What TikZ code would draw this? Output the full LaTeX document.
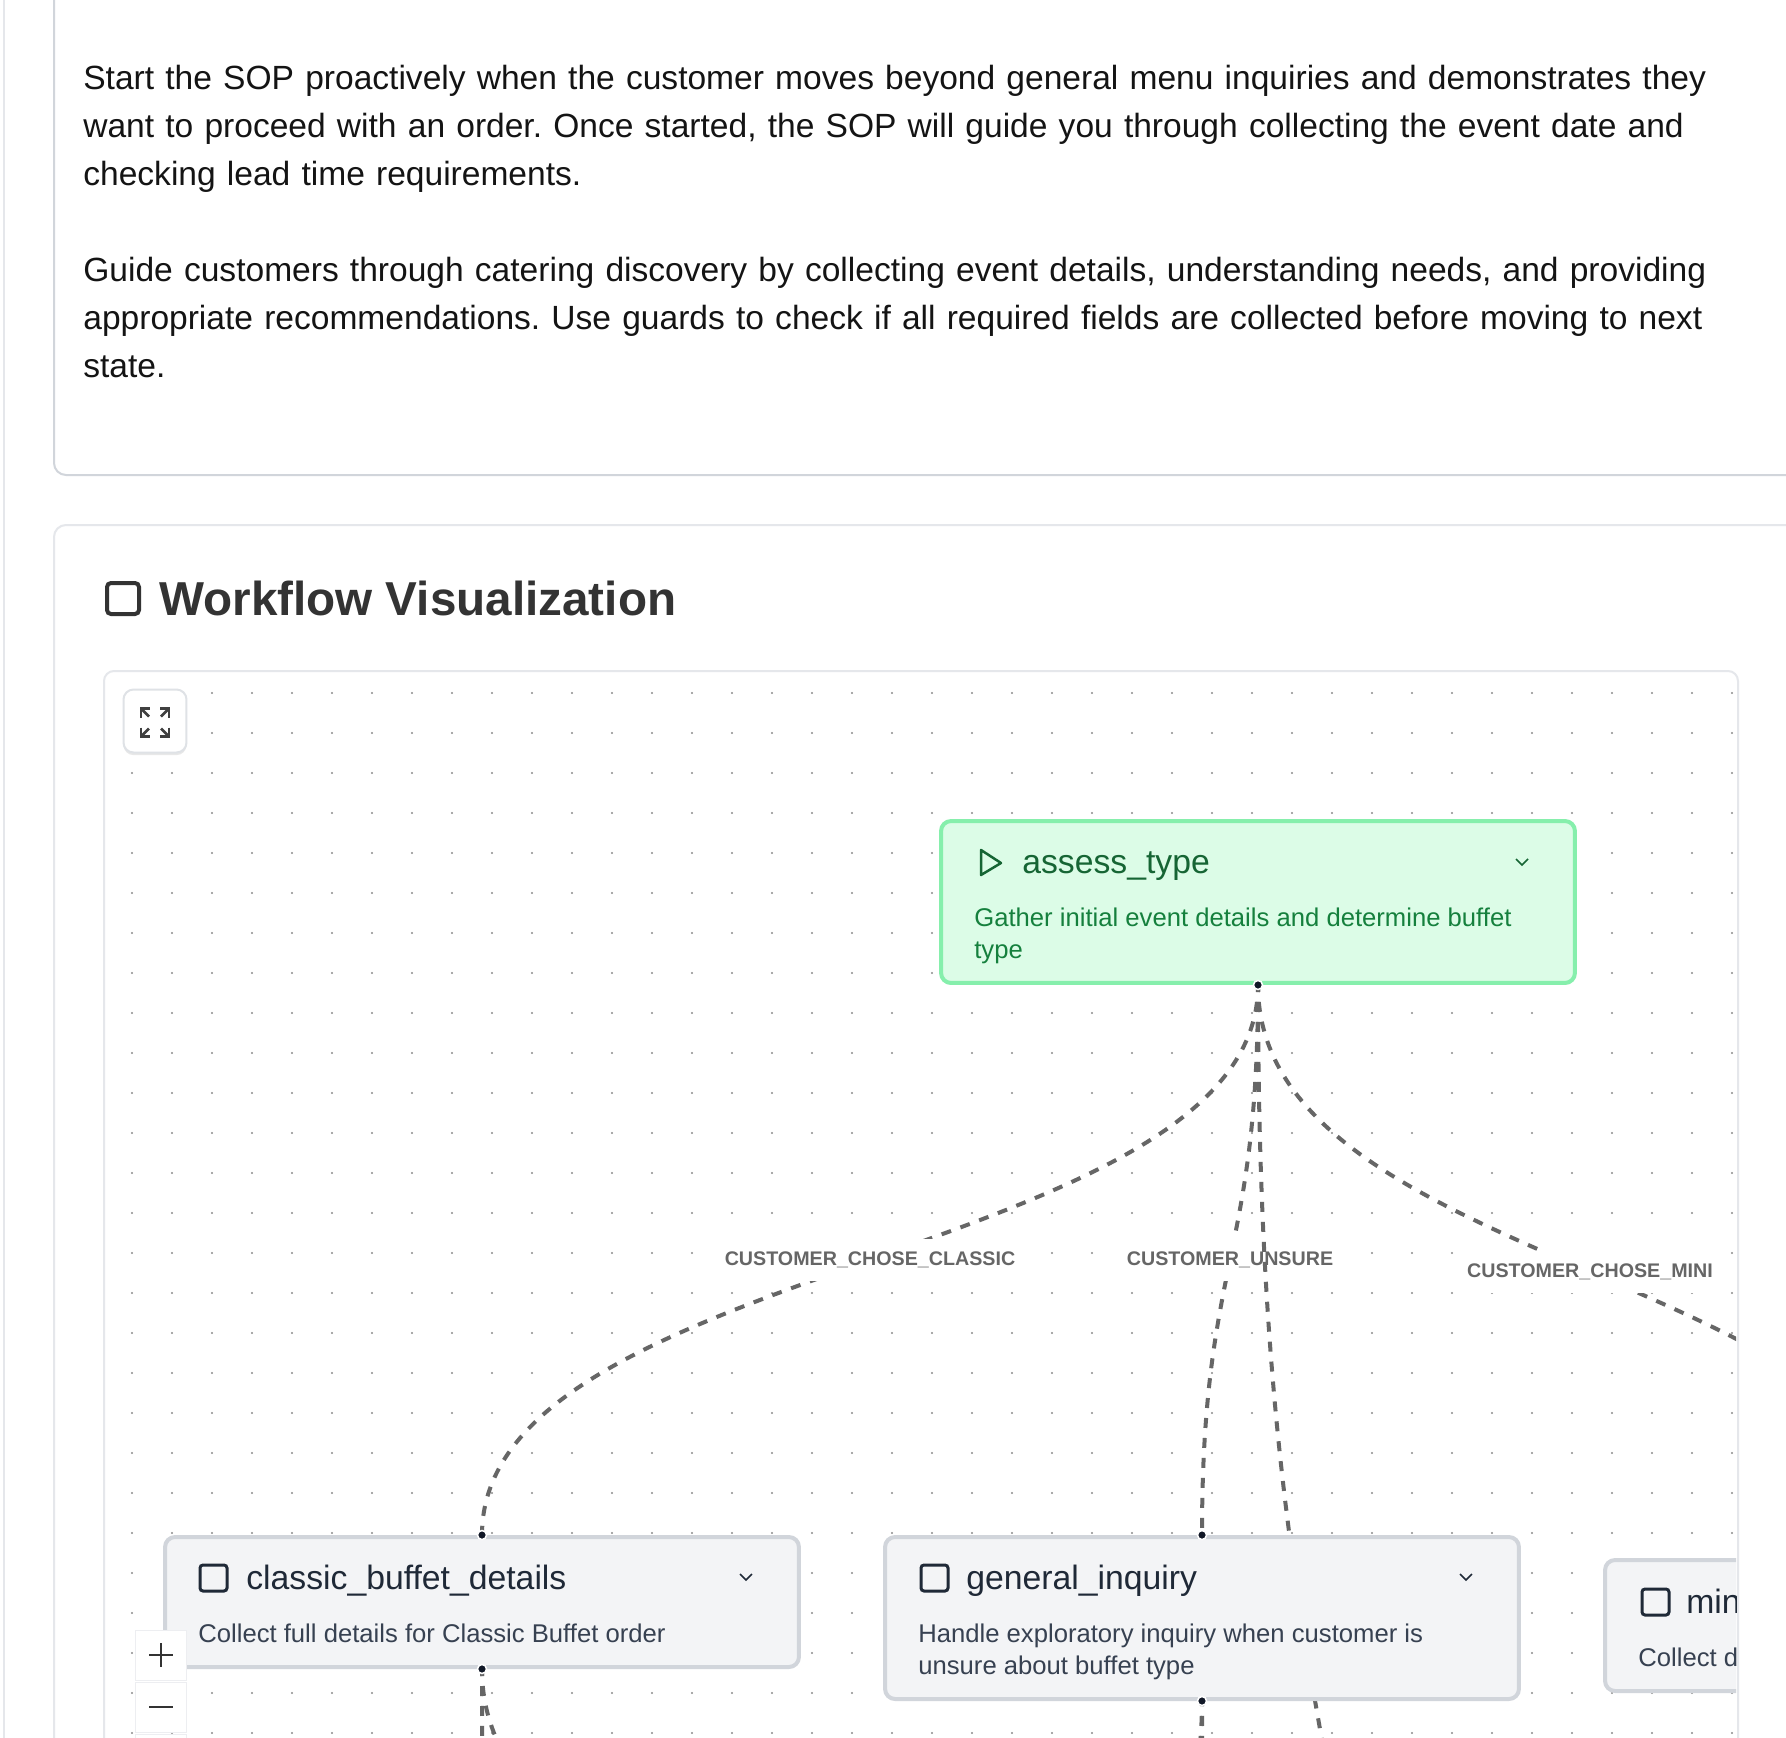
\documentclass[tikz,border=0pt]{standalone}
\usepackage{fontspec}
\setmainfont{Liberation Sans}
\usetikzlibrary{positioning,shadows}
\definecolor{startFill}{HTML}{DCFCE7}
\definecolor{startLine}{HTML}{86EFAC}
\definecolor{startTitle}{HTML}{166534}
\definecolor{startText}{HTML}{15803D}
\definecolor{stateFill}{HTML}{F3F4F6}
\definecolor{stateLine}{HTML}{D1D5DB}
\definecolor{stateTitle}{HTML}{1F2937}
\definecolor{stateText}{HTML}{374151}
\definecolor{cardLine}{HTML}{E5E7EB}
\definecolor{edgeGray}{HTML}{666666}
\definecolor{handleDark}{HTML}{111827}
\pgfdeclarelayer{back}
\pgfdeclarelayer{edges}
\pgfsetlayers{back,edges,main}
\tikzset {
    style Start/.style={
        fill=startFill,
        draw=startLine,
        line width=.08cm,
        rectangle, % Set the shape as a rectangle
        rounded corners=.2cm,
        minimum width=12.68cm,
        drop shadow={shadow xshift=0pt, shadow yshift=-1pt, opacity=.12},
    },
    style State/.style={
        fill=stateFill,
        draw=stateLine,
        line width=.08cm,
        rectangle, % Set the shape as a rectangle
        rounded corners=.2cm,
        minimum width=12.68cm,
        drop shadow={shadow xshift=0pt, shadow yshift=-1pt, opacity=.12},
    },
    style Button/.style={
        fill=white,
        draw=stateLine!70,
        line width=.04cm,
        rectangle,
        rounded corners=.2cm,
        minimum size=1.26cm,
        drop shadow={shadow xshift=0pt, shadow yshift=-1.5pt, opacity=.18},
    },
    style Zoom/.style={
        fill=white,
        draw=cardLine!70,
        line width=.02cm,
        rectangle,
        minimum width=1.04cm,
        minimum height=1cm,
    },
    style Edge/.style={
        draw=edgeGray,
        line width=.08cm,
        dash pattern=on .2cm off .2cm,
        dash phase=.06cm,
    },
    style Label/.style={
        fill=white,
        text=edgeGray,
        font=\fontsize{11.2pt}{14pt}\selectfont\bfseries,
        minimum height=.84cm,
        inner xsep=.1cm,
        inner ysep=0pt,
        solid,
    },
    style Handle/.style={
        circle,
        fill=handleDark,
        draw=white,
        line width=.03cm,
        inner sep=0pt,
        minimum size=.18cm,
    },
    style Title/.style={
        anchor=base west,
        inner sep=0pt,
        font=\fontsize{19.2pt}{23pt}\selectfont,
    },
    style Desc/.style={
        anchor=north west,
        inner sep=0pt,
        align=left,
        font=\fontsize{14.6pt}{18.2pt}\selectfont,
    },
    style Para/.style={
        anchor=north west,
        inner sep=0pt,
        align=left,
        text=black!92,
        font=\fontsize{19.1pt}{27.32pt}\selectfont\frenchspacing,
    },
}

\begin{document}
\begin{tikzpicture}[x=.02cm, y=-.02cm]
    \useasboundingbox (0,0) rectangle (1786,1738);

    \begin{pgfonlayer}{back}
        \fill[white] (0,0) rectangle (1786,1738);
        \draw[cardLine, line width=.06cm] (4,-10) -- (4,1750);
        \draw[stateLine, line width=.04cm, rounded corners=.24cm] (54,-20) rectangle (1900,475);
        \draw[cardLine, line width=.04cm, rounded corners=.24cm] (54,525) rectangle (1900,1900);
        \draw[cardLine, line width=.04cm, rounded corners=.2cm] (104,671) rectangle (1738,1900);
        \foreach \x in {132,172,...,1732}
            \foreach \y in {693,733,...,1733}
                \fill[black!45] (\x,\y) circle (.022cm);
    \end{pgfonlayer}

    \node[style Para, text width=34cm] at (83,64.5) (paraStart) {Start the SOP proactively when the customer moves beyond general menu inquiries and demonstrates they\\want to proceed with an order. Once started, the SOP will guide you through collecting the event date and\\checking lead time requirements.};
    \node[style Para, text width=34cm] at (83,256.5) (paraGuide) {Guide customers through catering discovery by collecting event details, understanding needs, and providing\\appropriate recommendations. Use guards to check if all required fields are collected before moving to next\\state.};

    \draw[black!80, line width=.08cm, rounded corners=.08cm] (107,583) rectangle (139,614);
    \node[anchor=base west, inner sep=0pt, text=black!80, font=\fontsize{27.1pt}{32pt}\selectfont\bfseries] at (159,615) (heading) {Workflow Visualization};

    % states
    \begin{scope}
        \clip (104,671) rectangle (1736,1738);
        \node[style Start, minimum height=3.24cm] at (1258,902) (assessType) {};
        \node[style State, minimum height=2.6cm] at (482,1602) (classicBuffet) {};
        \node[style State, minimum height=3.24cm] at (1202,1618) (generalInquiry) {};
        \node[style State, minimum height=2.62cm] at (1922,1625.5) (miniBuffet) {};

        \node[style Title, text=startTitle] at (1022,873) (assessName) {assess\_type};
        \node[style Desc, text=startText] at (974,907.5) (assessDesc) {Gather initial event details and determine buffet\\type};
        \node[style Title, text=stateTitle] at (246,1589) (classicName) {classic\_buffet\_details};
        \node[style Desc, text=stateText] at (198,1623.5) (classicDesc) {Collect full details for Classic Buffet order};
        \node[style Title, text=stateTitle] at (966,1589) (generalName) {general\_inquiry};
        \node[style Desc, text=stateText] at (918,1623.5) (generalDesc) {Handle exploratory inquiry when customer is\\unsure about buffet type};
        \node[style Title, text=stateTitle] at (1686,1613) (miniName) {min};
        \node[style Desc, text=stateText] at (1638,1647.5) (miniDesc) {Collect d};

        \draw[startTitle, line width=.05cm, line join=round] (981,850) -- (1001,863) -- (981,875) -- cycle;
        \foreach \x/\y in {200/1565,921/1565,1642/1589}
            \draw[stateTitle, line width=.06cm, rounded corners=.06cm] (\x,\y) rectangle ++(27,26);
        \draw[startTitle, line width=.03cm] (1516,859) -- (1522,865) -- (1528,859);
        \foreach \x in {746,1466}
            \draw[stateTitle, line width=.03cm] (\x-6,1574) -- (\x,1580) -- (\x+6,1574);

        \node[style Handle] at (assessType.south) (assessOut) {};
        \node[style Handle] at (classicBuffet.north) (classicIn) {};
        \node[style Handle] at (classicBuffet.south) (classicOut) {};
        \node[style Handle] at (generalInquiry.north) (generalIn) {};
        \node[style Handle] at (generalInquiry.south) (generalOut) {};
    \end{scope}

    % connectors sit below the states
    \coordinate (belowFar) at (1402,2585);
    \coordinate (classicFarA) at (486,2200);
    \coordinate (classicFarB) at (1037,2200);
    \coordinate (generalFarA) at (1204,2200);
    \coordinate (generalFarB) at (1010,2200);
    \begin{pgfonlayer}{edges}
        \begin{scope}
            \clip (104,671) rectangle (1736,1738);
            \draw[style Edge] (assessType.south) .. controls (1258,1260) and (482,1260) .. (classicBuffet.north)
                node[midway, style Label] (labelClassic) {CUSTOMER\_CHOSE\_CLASSIC};
            \draw[style Edge] (assessType.south) .. controls (1258,1260) and (1202,1260) .. (generalInquiry.north)
                node[midway, style Label] (labelUnsure) {CUSTOMER\_UNSURE};
            \draw[style Edge] (assessType.south) .. controls (1258,1272) and (1922,1272) .. (miniBuffet.north)
                node[midway, style Label] (labelMini) {CUSTOMER\_CHOSE\_MINI};
            \draw[style Edge] (assessType.south) .. controls (1258,1785) and (1402,1785) .. (belowFar);
            \draw[style Edge] (classicBuffet.south) .. controls (482,1935) and (486,1935) .. (classicFarA);
            \draw[style Edge] (classicBuffet.south) .. controls (482,1935) and (1037,1935) .. (classicFarB);
            \draw[style Edge, dash phase=.1cm] (generalInquiry.south) .. controls (1202,1950) and (1204,1950) .. (generalFarA);
            \draw[style Edge, dash phase=.1cm] (generalInquiry.south) .. controls (1202,1950) and (1010,1950) .. (generalFarB);
        \end{scope}
    \end{pgfonlayer}

    % canvas controls
    \node[style Button] at (155,721) (expandBtn) {};
    \foreach \sx/\sy in {-1/-1, 1/-1, -1/1, 1/1} {
        \draw[black!75, line width=.05cm] (155+\sx*14,722.5+\sy*14) -- (155+\sx*6,722.5+\sy*6);
        \draw[black!75, line width=.05cm] (155+\sx*14,722.5+\sy*5) -- (155+\sx*14,722.5+\sy*14) -- (155+\sx*5,722.5+\sy*14);
    }
    \node[style Zoom] at (161,1655) (zoomIn) {};
    \node[style Zoom] at (161,1707) (zoomOut) {};
    \begin{scope}
        \clip (104,1700) rectangle (200,1738);
        \node[style Zoom] at (161,1759) (zoomFit) {};
    \end{scope}
    \draw[black!80, line width=.05cm] (149,1655) -- (173,1655) (161,1643) -- (161,1667);
    \draw[black!80, line width=.05cm] (149,1707) -- (173,1707);
\end{tikzpicture}
\end{document}
